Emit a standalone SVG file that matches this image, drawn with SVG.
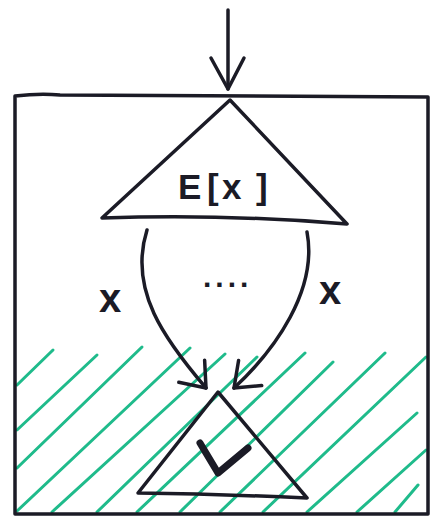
<svg xmlns="http://www.w3.org/2000/svg" width="430" height="518" viewBox="0 0 430 518">
  <style>
    .ink { fill: none; stroke: #1b1b26; stroke-width: 3.5; stroke-linecap: round; stroke-linejoin: round; }
    .hatch line { stroke: #1fbb8b; stroke-width: 3; stroke-linecap: round; }
    .lbl { font-family: "Liberation Sans", Arial, sans-serif; fill: #1b1b26; font-weight: bold; }
  </style>
  <defs>
    <marker id="vhead" markerUnits="userSpaceOnUse" markerWidth="60" markerHeight="60" refX="0" refY="0" orient="auto" viewBox="-40 -30 60 60" overflow="visible">
      <path d="M-22,-17 L0,0 L-22,17" fill="none" stroke="#1b1b26" stroke-width="3.5" stroke-linecap="round" stroke-linejoin="round"/>
    </marker>
    <marker id="vheadLong" markerUnits="userSpaceOnUse" markerWidth="60" markerHeight="60" refX="0" refY="0" orient="auto" viewBox="-40 -30 60 60" overflow="visible">
      <path d="M-31,-16 L0,0 L-31,17" fill="none" stroke="#1b1b26" stroke-width="3.5" stroke-linecap="round" stroke-linejoin="round"/>
    </marker>
  </defs>

  <rect width="430" height="518" fill="#ffffff"/>

  <g id="hatching" class="hatch">
    <line x1="17" y1="385" x2="53" y2="350"/>
    <line x1="17" y1="430" x2="97" y2="355"/>
    <line x1="17" y1="468" x2="142" y2="347"/>
    <line x1="17" y1="511" x2="190" y2="348"/>
    <line x1="52" y1="512" x2="225" y2="354"/>
    <line x1="97" y1="512" x2="257" y2="357"/>
    <line x1="137" y1="512" x2="305" y2="353"/>
    <line x1="180" y1="512" x2="333" y2="362"/>
    <line x1="220" y1="512" x2="385" y2="353"/>
    <line x1="263" y1="512" x2="426" y2="357"/>
    <line x1="307" y1="512" x2="417" y2="413"/>
    <line x1="357" y1="512" x2="426" y2="450"/>
    <line x1="395" y1="512" x2="418" y2="485"/>
  </g>

  <g id="box">
    <path class="ink" d="M15,96 Q40,93 60,95 L428,97 L428,514 L15,514 Z" stroke-width="4"/>
  </g>

  <g id="node-E">
    <path class="ink" d="M230,100 L347,224 Q230,214 102,218 Z" fill="#ffffff"/>
    <text class="lbl" x="178 207 222 256" y="199" font-size="35">E[x]</text>
  </g>

  <g id="node-goal">
    <path class="ink" d="M218,392 L307,498 Q220,494 138,493 Z"/>
    <path d="M200,443 L218,473 L248,448" fill="none" stroke="#1b1b26" stroke-width="7" stroke-linecap="round" stroke-linejoin="round"/>
  </g>

  <g id="connectors">
    <path class="ink" d="M228,10 L228,89" marker-end="url(#vheadLong)"/>
    <path class="ink" d="M147,230 C128,290 165,340 206,388" marker-end="url(#vhead)"/>
    <path class="ink" d="M307,232 C318,290 275,350 234,388" marker-end="url(#vhead)"/>
    <text class="lbl" x="110" y="312" font-size="40" text-anchor="middle">x</text>
    <text class="lbl" x="330" y="304" font-size="40" text-anchor="middle">x</text>
    <text class="lbl" x="203" y="287" font-size="30" letter-spacing="4">....</text>
  </g>
</svg>
